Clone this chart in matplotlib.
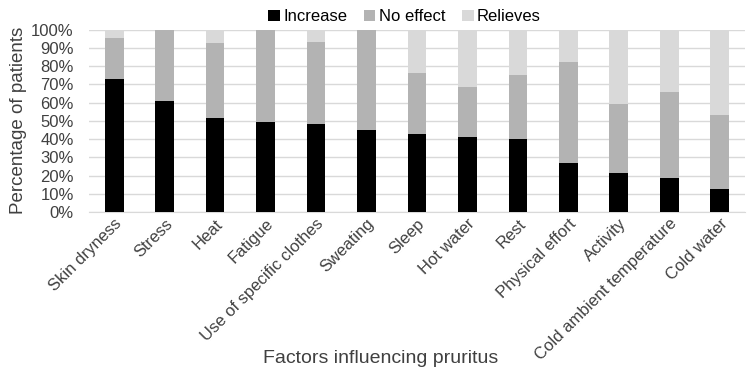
import matplotlib.pyplot as plt
import numpy as np

plt.rcParams['font.family'] = ['Liberation Sans', 'DejaVu Sans']

factors = ["Skin dryness", "Stress", "Heat", "Fatigue", "Use of specific clothes",
           "Sweating", "Sleep", "Hot water", "Rest", "Physical effort", "Activity",
           "Cold ambient temperature", "Cold water"]
increase = [73, 61, 51.5, 49.5, 48.5, 45, 43, 41, 40, 26.7, 21.6, 18.5, 12.4]
no_effect = [22.5, 39, 41, 50.5, 45, 55, 33, 27.5, 35, 55.6, 37.8, 47.3, 41]
relieves = [4.5, 0, 7.5, 0, 6.5, 0, 24, 31.5, 25, 17.7, 40.6, 34.2, 46.6]

fig = plt.figure(figsize=(7.56, 3.75), dpi=100)
ax = fig.add_axes([0.1177, 0.4347, 0.8677, 0.4861])

x = np.arange(len(factors))
inc = np.array(increase)
noe = np.array(no_effect)
rel = np.array(relieves)
w = 0.37
ax.bar(x, inc, w, color="#000000", label="Increase", zorder=3)
ax.bar(x, noe, w, bottom=inc, color="#b3b3b3", label="No effect", zorder=3)
ax.bar(x, rel, w, bottom=inc + noe, color="#d9d9d9", label="Relieves", zorder=3)

ax.set_xlim(-0.5, len(factors) - 0.5)
ax.set_ylim(0, 100)
ax.set_yticks(range(0, 101, 10))
ax.set_yticklabels([f"{v}%" for v in range(0, 101, 10)], fontsize=12, color="#404040")
ax.set_xticks(x)
ax.set_xticklabels(factors, rotation=45, ha="right", rotation_mode="anchor",
                   fontsize=12, color="#404040")
ax.tick_params(axis="x", length=0, pad=3)
ax.tick_params(axis="y", length=0, pad=11)
ax.grid(axis="y", color="#d9d9d9", linewidth=1, zorder=0)
for s in ["top", "right", "left"]:
    ax.spines[s].set_visible(False)
ax.spines["bottom"].set_color("#d9d9d9")

ax.set_ylabel("Percentage of patients", fontsize=13.5, color="#404040", labelpad=3)
fig.text(0.503, 0.045, "Factors influencing pruritus", fontsize=14, color="#404040",
         ha="center", va="center")

fig.legend(loc="upper center", bbox_to_anchor=(0.535, 1.015), ncol=3, frameon=False,
           fontsize=12, handlelength=0.7, handleheight=0.7, handletextpad=0.2,
           columnspacing=1.0, labelcolor="#000000")

fig.savefig("out.png", dpi=100)
